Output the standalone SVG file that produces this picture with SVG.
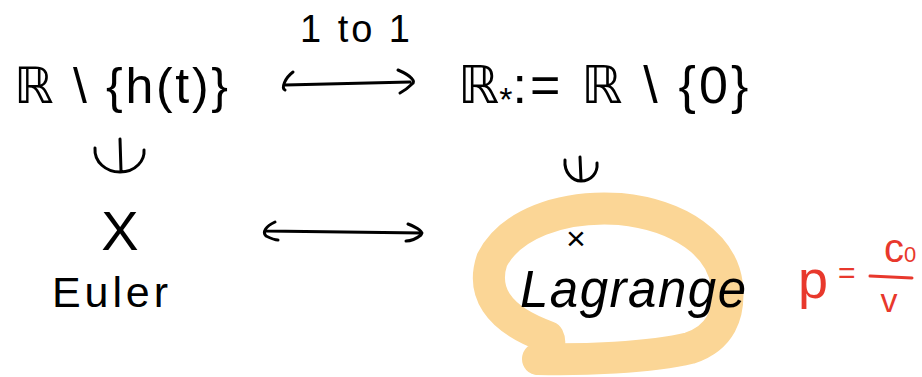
<svg xmlns="http://www.w3.org/2000/svg" width="922" height="377" viewBox="0 0 922 377">
<style>
.t{font-family:"Liberation Sans","DejaVu Sans",sans-serif;fill:#000}
.r{font-family:"Liberation Sans","DejaVu Sans",sans-serif;fill:#e8382c}
.ln{fill:none;stroke:#000;stroke-width:3;stroke-linecap:round;stroke-linejoin:round}
</style>
<rect width="922" height="377" fill="#fff"/>
<g id="highlight">
<path d="M538,359 C580,360 650,358 690,348 C720,338 730,315 727,285 C722,245 680,215 620,209 C560,205 510,225 492,260 C482,290 495,318 548,337 C552,345 545,355 538,359" fill="none" stroke="#fbd696" stroke-width="32" stroke-linecap="round" stroke-linejoin="round"/>
</g>
<g id="node-r-minus-h">
<text class="t" x="14" y="103" font-size="50" textLength="214" lengthAdjust="spacing">ℝ \ {h(t)}</text>
</g>
<g id="label-1to1">
<text class="t" x="300" y="42" font-size="38" textLength="110" lengthAdjust="spacing">1 to 1</text>
</g>
<g id="node-r-star">
<text class="t" x="458" y="103" font-size="52">ℝ<tspan font-size="34" dy="8">*</tspan><tspan dy="-8" textLength="236" lengthAdjust="spacing">:= ℝ \ {0}</tspan></text>
</g>
<g id="node-X">
<text class="t" x="120" y="250" font-size="56" text-anchor="middle">X</text>
</g>
<g id="node-euler">
<text class="t" x="52" y="307" font-size="43" textLength="116" lengthAdjust="spacing">Euler</text>
</g>
<g id="node-x">
<text class="t" x="576" y="250" font-size="34" text-anchor="middle">×</text>
</g>
<g id="node-lagrange">
<text class="t" x="520" y="307" font-size="51" font-style="italic" textLength="226" lengthAdjust="spacing">Lagrange</text>
</g>
<g id="formula">
<text class="r" x="798" y="298" font-size="54">p</text>
<text class="r" x="838" y="283" font-size="30">=</text>
<line x1="870" y1="276" x2="912" y2="278" stroke="#e8382c" stroke-width="3" stroke-linecap="round"/>
<text class="r" x="884" y="262" font-size="40">c<tspan font-size="22">0</tspan></text>
<text class="r" x="889" y="312" font-size="34" text-anchor="middle">v</text>
</g>
<g id="connectors">
<path class="ln" d="M293,72 C285,78 281,88 285,90 M285,85 L410,82 M398,70 C412,76 416,82 412,84 C408,88 402,92 400,93"/>
<path class="ln" d="M275,222 C266,226 262,232 266,236 C270,238 276,240 278,240 M266,231 L422,233 M408,224 C418,228 424,232 421,235 C416,239 410,241 406,241"/>
<path class="ln" d="M95,148 C94,162 106,172 120,172 C136,172 145,160 144,150 M120,139 L121,171"/>
<path class="ln" d="M565,160 C564,172 572,181 581,181 C591,181 598,173 597,163 M580,157 L581,180"/>
</g>
</svg>
